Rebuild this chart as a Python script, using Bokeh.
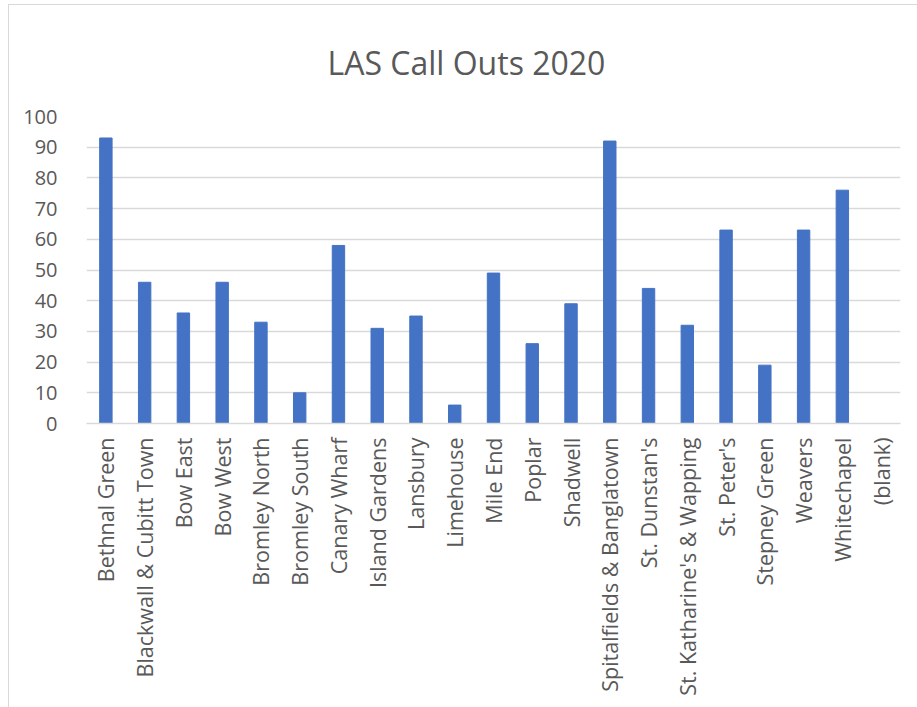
from bokeh.plotting import figure
from bokeh.models import ColumnDataSource, FactorRange, Range1d, FixedTicker
from bokeh.embed import file_html
from bokeh.resources import INLINE
import math

wards = [
    "Bethnal Green", "Blackwall & Cubitt Town", "Bow East", "Bow West",
    "Bromley North", "Bromley South", "Canary Wharf", "Island Gardens",
    "Lansbury", "Limehouse", "Mile End", "Poplar", "Shadwell",
    "Spitalfields & Banglatown", "St. Dunstan's", "St. Katharine's & Wapping",
    "St. Peter's", "Stepney Green", "Weavers", "Whitechapel", "(blank)",
]
callouts = [93, 46, 36, 46, 33, 10, 58, 31, 35, 6, 49, 26, 39, 92, 44, 32, 63, 19, 63, 76, 0]
y_ticks = list(range(0, 101, 10))
title_text = "LAS Call Outs 2020"

FONT = "Open Sans"
TXT = "#595959"
GRID = "#d9d9d9"

source = ColumnDataSource(data=dict(ward=wards, count=callouts))

p = figure(
    x_range=FactorRange(*wards, range_padding=0),
    y_range=Range1d(0, 100),
    width=909, height=703,
    output_backend="svg", toolbar_location=None,
    min_border_left=77, min_border_right=18,
    min_border_top=98, min_border_bottom=285,
)
p.styles = {
    "margin-left": "8px", "margin-top": "4px",
    "border-left": "1px solid #d9d9d9", "border-top": "1px solid #d9d9d9",
}

p.vbar(x="ward", top="count", width=0.32, source=source,
       fill_color="#4472C4", line_color="#4472C4")

p.title.text = title_text
p.title.align = "left"
p.title.offset = 241
p.title.text_font = FONT
p.title.text_font_size = "32px"
p.title.text_font_style = "normal"
p.title.text_color = TXT
p.title.text_line_height = 0.6
p.title.standoff = 66

p.outline_line_color = None
p.background_fill_color = "white"
p.border_fill_color = "white"

p.xgrid.grid_line_color = None
p.ygrid.grid_line_color = GRID
p.ygrid.grid_line_width = 1.3
p.ygrid.ticker = FixedTicker(ticks=y_ticks)

p.yaxis.ticker = FixedTicker(ticks=y_ticks)
p.yaxis.axis_line_color = None
p.yaxis.major_tick_line_color = None
p.yaxis.minor_tick_line_color = None
p.yaxis.major_label_text_font = FONT
p.yaxis.major_label_text_font_size = "20px"
p.yaxis.major_label_text_color = TXT
p.yaxis.major_label_standoff = 23

p.xaxis.axis_line_color = GRID
p.xaxis.axis_line_width = 1.3
p.xaxis.major_tick_line_color = None
p.xaxis.minor_tick_line_color = None
p.xaxis.major_label_orientation = math.pi / 2
p.xaxis.major_label_text_font = FONT
p.xaxis.major_label_text_font_size = "21.5px"
p.xaxis.major_label_text_color = TXT
p.xaxis.major_label_standoff = 8

open("out.html", "w").write(file_html(p, INLINE))
